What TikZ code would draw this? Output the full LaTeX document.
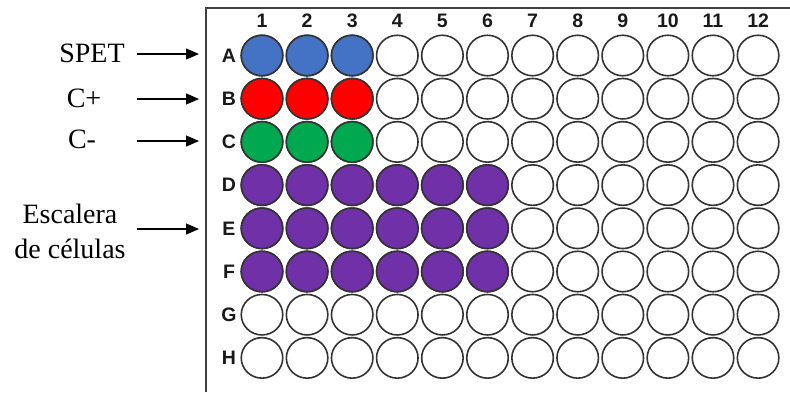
\documentclass[tikz,border=0pt]{standalone}
\usepackage{fontspec}
\setmainfont{Liberation Serif}
\setsansfont{Liberation Sans}
\usepackage{tikz}
\usetikzlibrary{positioning, arrows.meta, shapes.geometric}
\usepackage{xcolor}
\definecolor{wellblue}{HTML}{4472C4}
\definecolor{wellred}{HTML}{FF0000}
\definecolor{wellgreen}{HTML}{00A850}
\definecolor{wellpurple}{HTML}{7030A8}
\definecolor{welledge}{HTML}{333333}
\definecolor{framegray}{HTML}{404040}

\begin{document}
\begin{tikzpicture}[
    x=1pt, y=-1pt,
    well/.style={ellipse, draw=welledge, line width=1.6pt, minimum width=41.5pt, minimum height=40.5pt, inner sep=0pt},
    idx/.style={font=\sffamily\bfseries\fontsize{19.5}{20}\selectfont, text=black!90},
    lbl/.style={font=\fontsize{28}{35}\selectfont, align=center, inner sep=0pt},
    pointer/.style={-{Triangle[length=13pt, width=11pt]}, line width=1.2pt},
    thick
]
  \useasboundingbox (0,0) rectangle (790,392);

  % --- PLATE FRAME ---
  \draw[line width=2pt, framegray] (205.5,392) -- (205.5,7.5) -- (790,7.5);

  % --- WELLS AND INDICES ---
  \foreach \r [count=\i] in {A,B,C,D,E,F,G,H} {
    \node[idx] (row\r) at (229, {55.5+43.2*(\i-1)}) {\r};
    \foreach \c in {1,...,12}
      \node[well] (\r\c) at ({262+45.1*(\c-1)}, {55.5+43.2*(\i-1)}) {};
  }
  \foreach \c in {1,...,12}
    \node[idx] (col\c) at ({262+45.1*(\c-1)}, 21) {\c};

  % --- FILLED WELLS ---
  \foreach \w in {A1,A2,A3}
    \node[well, fill=wellblue] at (\w) {};
  \foreach \w in {B1,B2,B3}
    \node[well, fill=wellred] at (\w) {};
  \foreach \w in {C1,C2,C3}
    \node[well, fill=wellgreen] at (\w) {};
  \foreach \w in {D1,D2,D3,D4,D5,D6,E1,E2,E3,E4,E5,E6,F1,F2,F3,F4,F5,F6}
    \node[well, fill=wellpurple] at (\w) {};

  % --- LEFT LABELS ---
  \node[lbl] (spet) at (92,53) {SPET};
  \node[lbl] (cpos) at (84,98) {C+};
  \node[lbl] (cneg) at (82,139) {C-};
  \node[lbl] (ladder) at (70,231) {Escalera\\de células};

  \coordinate (tA) at (137,54);  \coordinate (hA) at (199,54);
  \coordinate (tB) at (137,99);  \coordinate (hB) at (199,99);
  \coordinate (tC) at (137,141); \coordinate (hC) at (199,141);
  \coordinate (tE) at (137,229); \coordinate (hE) at (199,229);

  % --- ARROWS ---
  \draw[pointer] (tA) -- (hA);
  \draw[pointer] (tB) -- (hB);
  \draw[pointer] (tC) -- (hC);
  \draw[pointer] (tE) -- (hE);
\end{tikzpicture}
\end{document}
